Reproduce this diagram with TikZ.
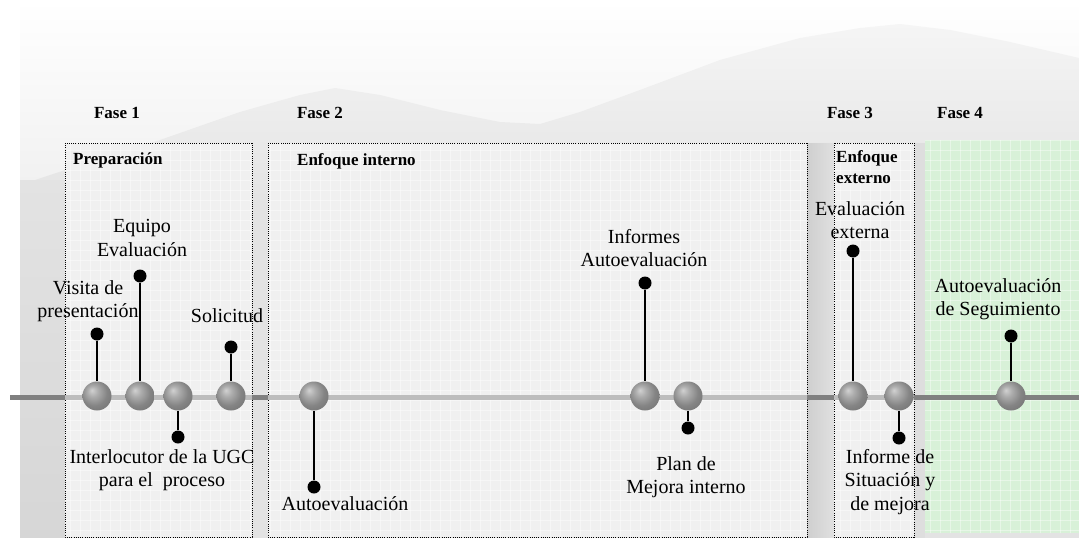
\documentclass[tikz,border=0pt]{standalone}
\usepackage{fontspec}
\setmainfont{Liberation Serif}
\definecolor{fasegreen}{HTML}{D8F1D8}
\pgfdeclareradialshading{greyball}{\pgfpoint{-9bp}{10bp}}{%
  color(0bp)=(black!18); color(9bp)=(black!32); color(22bp)=(black!48);
  color(40bp)=(black!58); color(50bp)=(black!62)}
\begin{document}
\begin{tikzpicture}[x=1pt,y=-1pt,
  lbl/.style={font=\fontsize{20}{23.5}\selectfont, align=center, inner sep=0pt},
  hdr/.style={font=\fontsize{17}{21}\selectfont\bfseries, inner sep=0pt},
  phasebox/.style={draw=black, line width=0.9pt, dash pattern=on 1pt off 1.2pt},
  sphere/.style={circle, minimum size=29pt, inner sep=0pt, shading=greyball},
  pin/.style={circle, fill=black, minimum size=13pt, inner sep=0pt},
  stem/.style={line width=1.6pt, draw=black},
  darkline/.style={line width=5pt, draw=black!50},
  lightline/.style={line width=5pt, draw=black!26},
  gridline/.style={draw=white, line width=0.6pt, opacity=0.4}
]
\useasboundingbox (0,0) rectangle (1079,538);
% ---------- background ----------
\fill[white] (0,0) rectangle (1079,538);
\shade[top color=white, bottom color=black!6] (20,0) rectangle (1079,200);
\shade[top color=black!4, bottom color=black!11]
  (20,210) -- (20,185) -- (80,165) -- (160,140) -- (240,112) -- (300,95) -- (335,88)
  -- (380,95) -- (440,110) -- (500,122) -- (540,124) -- (580,112) -- (640,90) -- (720,60)
  -- (800,38) -- (860,28) -- (900,24) -- (950,30) -- (1010,42) -- (1079,58) -- (1079,210) -- cycle;
\fill[black!11] (20,200) rectangle (1079,538);
\shade[top color=black!11, bottom color=black!16] (20,180) rectangle (65,538);
\shade[left color=black!19, right color=black!12] (807,143) rectangle (834,538);
\fill[black!13] (914,143) rectangle (925,538);
% ---------- phase areas ----------
\fill[black!6] (65,143) rectangle (252,537);
\fill[black!6] (268,143) rectangle (807,537);
\fill[black!6] (834,143) rectangle (914,537);
\fill[fasegreen] (925,140) rectangle (1079,533);
\begin{scope}
  \clip (65,143) rectangle (252,537) (268,143) rectangle (807,537)
        (834,143) rectangle (914,537) (925,140) rectangle (1079,533);
  \foreach \gx in {0,10,...,1070} \draw[gridline] (\gx,140) -- (\gx,538);
  \foreach \gy in {140,150,...,530} \draw[gridline] (20,\gy) -- (1079,\gy);
\end{scope}
\draw[phasebox] (65,143) rectangle (252,537);
\draw[phasebox] (268,143) rectangle (807,537);
\draw[phasebox] (834,143) rectangle (914,537);
% ---------- timeline ----------
\coordinate (l0) at (10,397);
\coordinate (l1) at (65,397);
\coordinate (l2) at (252,397);
\coordinate (l3) at (268,397);
\coordinate (l4) at (807,397);
\coordinate (l5) at (834,397);
\coordinate (l6) at (914,397);
\coordinate (l7) at (1079,397);
\draw[darkline] (l0) -- (l1);
\draw[lightline] (l1) -- (l2);
\draw[darkline] (l2) -- (l3);
\draw[lightline] (l3) -- (l4);
\draw[darkline] (l4) -- (l5);
\draw[lightline] (l5) -- (l6);
\draw[darkline] (l6) -- (l7);
% ---------- headers ----------
\node[hdr] (f1) at (117,113) {Fase 1};
\node[hdr] (f2) at (320,113) {Fase 2};
\node[hdr] (f3) at (850,113) {Fase 3};
\node[hdr] (f4) at (960,113) {Fase 4};
\node[hdr, anchor=west] (h1) at (73,160) {Preparación};
\node[hdr, anchor=west] (h2) at (297,161) {Enfoque interno};
\node[hdr, anchor=west, align=left] (h3) at (836,167) {Enfoque\\externo};
% ---------- milestones ----------
\node[pin] (p1) at (97,334) {};
\node[pin] (p2) at (140,276) {};
\node[pin] (p3) at (178,437) {};
\node[pin] (p4) at (231,347) {};
\node[pin] (p5) at (314,487) {};
\node[pin] (p6) at (645,283) {};
\node[pin] (p7) at (688,428) {};
\node[pin] (p8) at (853,251) {};
\node[pin] (p9) at (899,438) {};
\node[pin] (p10) at (1011,336) {};
\node[sphere] (b1) at (97,396) {};
\node[sphere] (b2) at (140,396) {};
\node[sphere] (b3) at (178,396) {};
\node[sphere] (b4) at (231,396) {};
\node[sphere] (b5) at (314,396) {};
\node[sphere] (b6) at (645,396) {};
\node[sphere] (b7) at (688,396) {};
\node[sphere] (b8) at (853,396) {};
\node[sphere] (b9) at (899,396) {};
\node[sphere] (b10) at (1011,396) {};
\foreach \i in {1,...,10} \draw[stem] (p\i) -- (b\i);
% ---------- labels ----------
\node[lbl] (t1) at (88,301) {Visita de\\presentación};
\node[lbl] (t2) at (142,238) {Equipo\\Evaluación};
\node[lbl] (t3) at (162,470) {Interlocutor de la UGC\\para el\ \ proceso};
\node[lbl] (t4) at (227,316) {Solicitud};
\node[lbl] (t5) at (345,504) {Autoevaluación};
\node[lbl] (t6) at (644,248) {Informes\\Autoevaluación};
\node[lbl] (t7) at (686,477) {Plan de\\Mejora interno};
\node[lbl] (t8) at (860,220) {Evaluación\\externa};
\node[lbl] (t9) at (890,482) {Informe de\\Situación y\\de mejora};
\node[lbl] (t10) at (998,299) {Autoevaluación\\de Seguimiento};
\end{tikzpicture}
\end{document}
